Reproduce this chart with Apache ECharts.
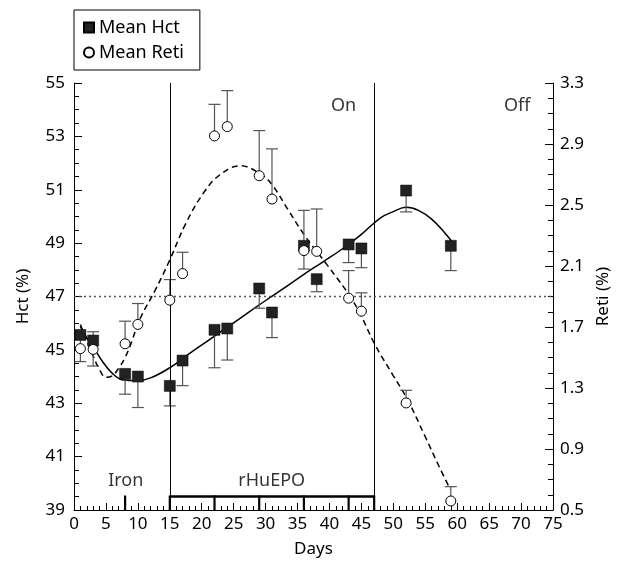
<!DOCTYPE html>
<html>
<head>
<meta charset="utf-8">
<script src="https://cdn.jsdelivr.net/npm/echarts@6/dist/echarts.min.js"></script>
<style>html,body{margin:0;padding:0;background:#fff;}#c{width:622px;height:563px;}</style>
</head>
<body>
<div id="c"></div>
<script>
// ---- data ----
const days      = [1, 3, 8, 10, 15, 17, 22, 24, 29, 31, 36, 38, 43, 45, 52, 59];
const hctMean   = [45.56, 45.35, 44.1, 44.0, 43.65, 44.6, 45.75, 45.8, 47.3, 46.4, 48.9, 47.65, 48.95, 48.8, 50.97, 48.9];
const hctErrEnd = [44.56, 45.68, 43.34, 42.84, 42.9, 43.66, 44.33, 44.62, 46.56, 45.46, 48.03, 47.18, 48.27, 48.08, 50.17, 47.97];
const retiMean  = [1.558, 1.553, 1.59, 1.717, 1.876, 2.05, 2.953, 3.014, 2.692, 2.539, 2.201, 2.196, 1.889, 1.804, 1.202, 0.559];
const retiErrEnd= [null, 1.444, 1.738, 1.854, 2.011, 2.19, 3.16, 3.25, 2.988, 2.868, 2.465, 2.474, 2.07, 1.924, 1.285, 0.653];

const hctFitDays = [1, 2, 3, 4.3, 6, 7.7, 10, 12, 15, 18, 21, 24, 27, 30, 33, 36, 39, 42, 45, 48, 50, 52, 54, 56, 58, 59.2];
const hctFit     = [45.87, 45.45, 45.12, 44.62, 44.12, 43.87, 43.85, 43.95, 44.33, 44.85, 45.35, 45.85, 46.35, 46.85, 47.33, 47.83, 48.3, 48.78, 49.33, 49.95, 50.18, 50.34, 50.22, 49.9, 49.4, 49.05];
const retiFitDays = [1, 2, 3, 4, 5, 6, 7, 8, 9, 10.3, 12.7, 15, 17.4, 20.3, 22.9, 26, 29.4, 31.2, 33.5, 36.2, 39.6, 43.2, 45, 47.1, 50, 52.2, 55, 57, 58.9];
const retiFit     = [1.717, 1.61, 1.51, 1.42, 1.37, 1.38, 1.43, 1.50, 1.60, 1.75, 1.94, 2.14, 2.37, 2.58, 2.70, 2.757, 2.698, 2.622, 2.47, 2.295, 2.109, 1.902, 1.77, 1.586, 1.38, 1.226, 0.98, 0.80, 0.637];

const phaseLines   = [15, 47];
const hctReference = 47;
const epoSpan      = [15, 47];
const epoDoseDays  = [15, 22, 29, 36, 43, 47];
const ironDoseDays = [8];

const xTicks   = {min: 0, max: 75, step: 5};
const hctTicks = {min: 39, max: 55, step: 2};
const retiTicks= {min: 0.5, max: 3.3, step: 0.4};

const annotationTexts = ['Iron', 'rHuEPO', 'On', 'Off'];

// ---- chart ----
const FONT = 'Noto Sans';
const TXT = '#000';
const chart = echarts.init(document.getElementById('c'), null, {renderer: 'canvas'});

function errBar(color) {
  return function (params, api) {
    const x = api.value(0), v = api.value(1), e = api.value(2);
    const p0 = api.coord([x, v]), p1 = api.coord([x, e]);
    const cap = 6;
    return {type: 'group', children: [
      {type: 'line', shape: {x1: p0[0], y1: p0[1], x2: p1[0], y2: p1[1]}, style: {stroke: color, lineWidth: 1.2}},
      {type: 'line', shape: {x1: p1[0] - cap, y1: p1[1], x2: p1[0] + cap, y2: p1[1]}, style: {stroke: color, lineWidth: 1.2}}
    ]};
  };
}

const hctErrData = days.map((d, i) => [d, hctMean[i], hctErrEnd[i]]).filter(r => r[2] != null);
const retiErrData = days.map((d, i) => [d, retiMean[i], retiErrEnd[i]]).filter(r => r[2] != null);

const annPos = [[8.1, 40.09], [30.95, 40.09], [42.2, 54.16], [69.4, 54.14]];

const option = {
  animation: false,
  backgroundColor: '#fff',
  textStyle: {fontFamily: FONT},
  grid: {left: 74, right: 69, top: 83, bottom: 52, show: false},
  legend: {
    data: ['Mean Hct', 'Mean Reti'],
    orient: 'vertical', left: 74, top: 10,
    borderColor: '#000', borderWidth: 1, borderRadius: 0,
    padding: [8, 16, 8, 9], itemGap: 6, itemWidth: 10, itemHeight: 10,
    textStyle: {fontSize: 18, color: TXT, fontFamily: FONT, lineHeight: 19}
  },
  xAxis: {
    type: 'value', min: xTicks.min, max: xTicks.max, interval: xTicks.step,
    name: 'Days', nameLocation: 'middle', nameGap: 31,
    nameTextStyle: {fontSize: 17, color: TXT, fontFamily: FONT},
    axisLine: {show: true, onZero: false, lineStyle: {color: '#000', width: 1}},
    axisTick: {show: true, inside: true, length: 7, lineStyle: {color: '#000'}},
    minorTick: {show: true, splitNumber: 5, length: 4, lineStyle: {color: '#000'}},
    splitLine: {show: false},
    axisLabel: {fontSize: 17, color: TXT, margin: 6, fontFamily: FONT}
  },
  yAxis: [{
    type: 'value', min: hctTicks.min, max: hctTicks.max, interval: hctTicks.step, position: 'left',
    name: 'Hct (%)', nameLocation: 'middle', nameGap: 42,
    nameTextStyle: {fontSize: 17, color: TXT, fontFamily: FONT},
    axisLine: {show: true, lineStyle: {color: '#000'}},
    axisTick: {show: true, inside: true, length: 8, lineStyle: {color: '#000'}},
    minorTick: {show: true, splitNumber: 4, length: 5, lineStyle: {color: '#000'}},
    splitLine: {show: false},
    axisLabel: {fontSize: 17, color: TXT, margin: 9, fontFamily: FONT}
  }, {
    type: 'value', min: retiTicks.min, max: retiTicks.max, interval: retiTicks.step, position: 'right',
    name: 'Reti (%)', nameLocation: 'middle', nameGap: 33,
    nameTextStyle: {fontSize: 17, color: TXT, fontFamily: FONT},
    axisLine: {show: true, lineStyle: {color: '#000'}},
    axisTick: {show: true, inside: true, length: 8, lineStyle: {color: '#000'}},
    minorTick: {show: true, splitNumber: 4, length: 5, lineStyle: {color: '#000'}},
    splitLine: {show: false},
    axisLabel: {fontSize: 17, color: TXT, margin: 7, fontFamily: FONT, formatter: v => v.toFixed(1)}
  }],
  series: [
    {
      name: 'refLines', type: 'line', data: [], yAxisIndex: 0, silent: true,
      markLine: {
        silent: true, symbol: ['none', 'none'], label: {show: false}, animation: false,
        data: phaseLines.map(d => ({xAxis: d, lineStyle: {type: 'solid', color: '#000', width: 1}}))
          .concat([{yAxis: hctReference, lineStyle: {type: [2, 3], color: '#555', width: 1.3}}])
      }
    },
    {
      name: 'Hct fit', type: 'line', yAxisIndex: 0, smooth: 0.4, showSymbol: false, silent: true,
      data: hctFitDays.map((d, i) => [d, hctFit[i]]),
      lineStyle: {color: '#000', width: 1.5}, z: 3
    },
    {
      name: 'Reti fit', type: 'line', yAxisIndex: 1, smooth: 0.4, showSymbol: false, silent: true,
      data: retiFitDays.map((d, i) => [d, retiFit[i]]),
      lineStyle: {color: '#000', width: 1.5, type: [6, 4]}, z: 3
    },
    {
      name: 'hctErr', type: 'custom', yAxisIndex: 0, renderItem: errBar('#555'),
      encode: {x: 0, y: [1, 2]}, data: hctErrData, z: 4, silent: true
    },
    {
      name: 'retiErr', type: 'custom', yAxisIndex: 1, renderItem: errBar('#555'),
      encode: {x: 0, y: [1, 2]}, data: retiErrData, z: 4, silent: true
    },
    {
      name: 'Mean Hct', type: 'scatter', yAxisIndex: 0, symbol: 'rect', symbolSize: 11,
      itemStyle: {color: '#222', borderColor: '#000', borderWidth: 0.5, opacity: 1},
      data: days.map((d, i) => [d, hctMean[i]]), z: 6
    },
    {
      name: 'Mean Reti', type: 'scatter', yAxisIndex: 1, symbol: 'circle', symbolSize: 10,
      itemStyle: {color: '#fff', borderColor: '#000', borderWidth: 1, opacity: 1},
      data: days.map((d, i) => [d, retiMean[i]]), z: 6
    },
    {
      name: 'epoBar', type: 'custom', yAxisIndex: 0, silent: true, z: 5,
      encode: {x: [0, 1]},
      data: [epoSpan],
      renderItem: function (params, api) {
        const a = api.coord([api.value(0), hctTicks.min]);
        const b = api.coord([api.value(1), hctTicks.min]);
        return {type: 'line', shape: {x1: a[0], y1: a[1] - 13.5, x2: b[0], y2: b[1] - 13.5},
          style: {stroke: '#000', lineWidth: 2.5}};
      }
    },
    {
      name: 'doseTicks', type: 'custom', yAxisIndex: 0, silent: true, z: 5,
      encode: {x: 0},
      data: epoDoseDays.concat(ironDoseDays).map(d => [d]),
      renderItem: function (params, api) {
        const a = api.coord([api.value(0), hctTicks.min]);
        return {type: 'line', shape: {x1: a[0], y1: a[1], x2: a[0], y2: a[1] - 14.5},
          style: {stroke: '#000', lineWidth: 2.2}};
      }
    },
    {
      name: 'annotations', type: 'scatter', yAxisIndex: 0, silent: true, symbolSize: 1,
      itemStyle: {color: 'rgba(0,0,0,0)'},
      data: annotationTexts.map((t, i) => ({name: t, value: annPos[i]})),
      label: {show: true, position: 'inside', formatter: '{b}', fontSize: 18, color: TXT,
        textBorderWidth: 0, fontFamily: FONT},
      z: 7
    }
  ]
};
chart.setOption(option);
</script>
</body>
</html>
